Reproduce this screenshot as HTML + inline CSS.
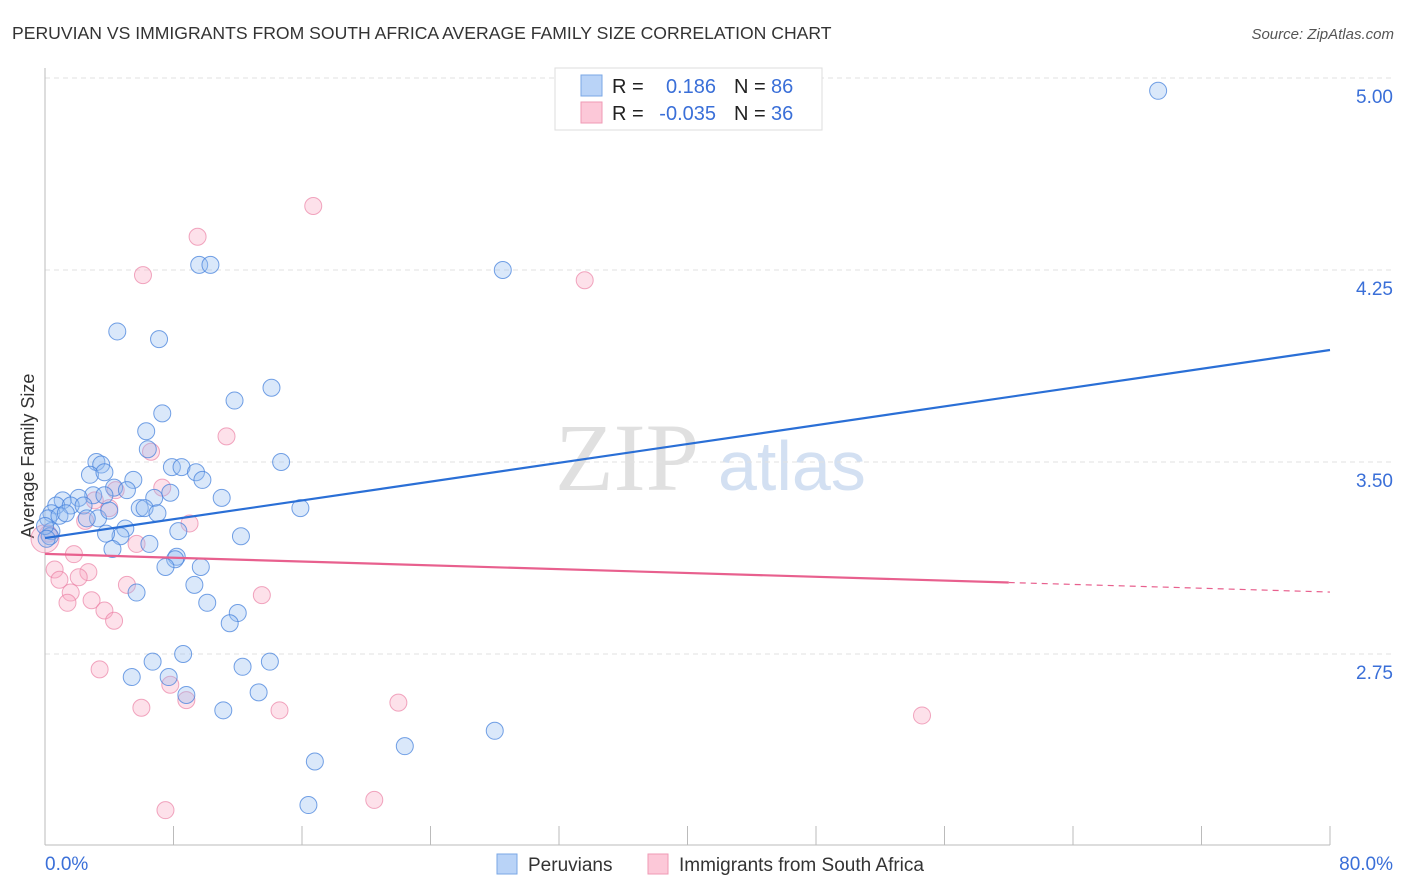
<!DOCTYPE html>
<html><head><meta charset="utf-8"><style>
body{margin:0;background:#fff;font-family:"Liberation Sans",sans-serif;}
#wrap{position:relative;width:1406px;height:892px;overflow:hidden;}
</style></head><body>
<div id="wrap">
<svg id="svg" width="1406" height="892" xmlns="http://www.w3.org/2000/svg">
<text x="12" y="39" font-size="17.6" fill="#333">PERUVIAN VS IMMIGRANTS FROM SOUTH AFRICA AVERAGE FAMILY SIZE CORRELATION CHART</text>
<text x="1394" y="39" font-size="15" fill="#555" text-anchor="end" font-style="italic">Source: ZipAtlas.com</text>
<text x="34" y="456" font-size="18" fill="#333" text-anchor="middle" transform="rotate(-90 34 456)">Average Family Size</text>
<text x="555" y="490" font-size="96" fill="#e0e0e0" font-family="Liberation Serif,serif">ZIP</text>
<text x="718" y="490" font-size="70" fill="#d3e0f2">atlas</text>
<g id="grid"></g><g id="axes"></g><g id="pts"></g><g id="trend"></g>
<g>
<rect x="555" y="68" width="267" height="62" fill="#fff" stroke="#ddd"/>
<rect x="581" y="75" width="21" height="21" fill="#b9d3f7" stroke="#7aa7e6"/>
<rect x="581" y="102" width="21" height="21" fill="#fcc8d8" stroke="#ef9ab5"/>
<text x="612" y="93" font-size="20" fill="#222">R =</text><text x="716" y="93" font-size="20" fill="#3a6fd8" text-anchor="end">0.186</text>
<text x="734" y="93" font-size="20" fill="#222">N =</text><text x="771" y="93" font-size="20" fill="#3a6fd8">86</text>
<text x="612" y="120" font-size="20" fill="#222">R =</text><text x="716" y="120" font-size="20" fill="#3a6fd8" text-anchor="end">-0.035</text>
<text x="734" y="120" font-size="20" fill="#222">N =</text><text x="771" y="120" font-size="20" fill="#3a6fd8">36</text>
</g>
<g>
<rect x="497" y="854" width="20" height="20" fill="#b9d3f7" stroke="#7aa7e6"/>
<text x="528" y="871" font-size="19" fill="#333">Peruvians</text>
<rect x="648" y="854" width="20" height="20" fill="#fcc8d8" stroke="#ef9ab5"/>
<text x="679" y="871" font-size="19" fill="#333">Immigrants from South Africa</text>
</g>
</svg>
</div>
<script>
const yTicks=[5.00,4.25,3.50,2.75];
const xTickLabels=["0.0%","80.0%"];
const blueX=[69.3,9.6,10.3,28.5,4.5,7.1,14.1,11.8,7.3,6.3,6.4,3.2,3.5,14.7,7.9,8.5,9.4,2.8,3.7,9.8,5.5,4.3,5.1,7.8,6.8,3.0,3.7,2.1,11.0,1.1,0.7,1.6,2.4,5.9,6.2,7.0,15.9,3.3,2.6,0.4,0.2,0.9,1.3,4.0,5.0,8.3,4.7,3.8,12.2,6.5,0.4,4.2,0.3,8.2,8.1,9.7,7.5,9.3,5.7,10.1,12.0,11.5,6.7,8.6,12.3,14.0,5.4,7.7,8.8,13.3,11.1,28.0,22.4,16.8,16.4,0.0,0.1];
const blueY=[4.95,4.27,4.27,4.25,4.01,3.98,3.79,3.74,3.69,3.62,3.55,3.50,3.49,3.50,3.48,3.48,3.46,3.45,3.46,3.43,3.43,3.40,3.39,3.38,3.36,3.37,3.37,3.36,3.36,3.35,3.33,3.33,3.33,3.32,3.32,3.30,3.32,3.28,3.28,3.30,3.28,3.29,3.30,3.31,3.24,3.23,3.21,3.22,3.21,3.18,3.23,3.16,3.21,3.13,3.12,3.09,3.09,3.02,2.99,2.95,2.91,2.87,2.72,2.75,2.70,2.72,2.66,2.66,2.59,2.60,2.53,2.45,2.39,2.33,2.16,3.25,3.20];
const pinkX=[16.7,9.5,6.1,33.6,11.3,6.6,4.4,7.3,3.1,4.0,2.5,9.0,0.2,5.7,1.8,0.6,2.7,0.9,2.1,5.1,1.6,13.5,2.9,1.4,3.7,4.3,3.4,7.8,8.8,6.0,14.6,22.0,54.6,20.5,7.5,0.0];
const pinkY=[4.50,4.38,4.23,4.21,3.60,3.54,3.39,3.40,3.35,3.32,3.27,3.26,3.22,3.18,3.14,3.08,3.07,3.04,3.05,3.02,2.99,2.98,2.96,2.95,2.92,2.88,2.69,2.63,2.57,2.54,2.53,2.56,2.51,2.18,2.14,3.20];
const blueTrend=[3.203,3.9375];
const pinkTrend=[3.141,2.992];
const pinkSolidEnd=60;
const NS="http://www.w3.org/2000/svg";
function sx(v){return 45+v*16.0625;}
function sy(v){return 270-(v-4.25)*256;}
function mk(tag,attrs,parent){const e=document.createElementNS(NS,tag);for(const k in attrs)e.setAttribute(k,attrs[k]);document.getElementById(parent).appendChild(e);return e;}
yTicks.forEach((t,i)=>{
  const l=mk('line',{x1:45,x2:1394,y1:sy(t),y2:sy(t),stroke:'#e2e2e2','stroke-dasharray':'5,4'},'grid');
  
  
  const tx=mk('text',{x:1393,y:sy(t)+25,'font-size':19,fill:'#3a6fd8','text-anchor':'end'},'grid');
  tx.textContent=t.toFixed(2);
  
  
});
const ax=mk('line',{x1:45,x2:1330,y1:845,y2:845,stroke:'#bbb'},'axes');


const ay=mk('line',{x1:45,x2:45,y1:68,y2:845,stroke:'#bbb'},'axes');


for(let i=0;i<=10;i++){
  const t=mk('line',{x1:sx(i*8),x2:sx(i*8),y1:826,y2:845,stroke:'#bbb'},'axes');
  
  
}
const xl0=mk('text',{x:45,y:870,'font-size':19,fill:'#3a6fd8'},'axes');xl0.textContent=xTickLabels[0];


const xl1=mk('text',{x:1393,y:870,'font-size':19,fill:'#3a6fd8','text-anchor':'end'},'axes');xl1.textContent=xTickLabels[1];


pinkX.forEach((v,i)=>{
  const c=mk('circle',{cx:sx(v),cy:sy(pinkY[i]),r:i===pinkX.length-1?14:8.5,fill:'rgba(248,170,195,0.35)',stroke:'rgba(235,130,165,0.7)','stroke-width':1},'pts');
  
  
});
blueX.forEach((v,i)=>{
  const c=mk('circle',{cx:sx(v),cy:sy(blueY[i]),r:8.5,fill:'rgba(150,190,240,0.35)',stroke:'rgba(70,130,220,0.75)','stroke-width':1},'pts');
  
  
});
const bt=mk('line',{x1:sx(0),y1:sy(blueTrend[0]),x2:sx(80),y2:sy(blueTrend[1]),stroke:'#2a6fd6','stroke-width':2.2},'trend');


const pm=pinkTrend[0]+(pinkTrend[1]-pinkTrend[0])*pinkSolidEnd/80;
const pt=mk('line',{x1:sx(0),y1:sy(pinkTrend[0]),x2:sx(pinkSolidEnd),y2:sy(pm),stroke:'#e8608e','stroke-width':2.2},'trend');


const pd=mk('line',{x1:sx(pinkSolidEnd),y1:sy(pm),x2:sx(80),y2:sy(pinkTrend[1]),stroke:'#e8608e','stroke-width':1.2,'stroke-dasharray':'6,5'},'trend');


</script>
</body></html>
